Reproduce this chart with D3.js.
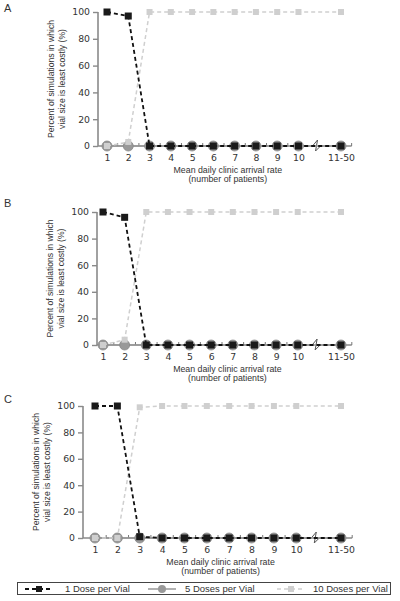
<!DOCTYPE html>
<html><head><meta charset="utf-8">
<script src="https://cdn.jsdelivr.net/npm/d3@7"></script>
<style>body{margin:0;background:#fff}svg{display:block}</style>
</head><body>
<script>
// ---- data ----
const categories = ["1","2","3","4","5","6","7","8","9","10","11-50"];
const yTicks = [0,20,40,60,80,100];
const panelLabels = ["A","B","C"];
const oneDoseA  = [100,97,0,0,0,0,0,0,0,0,0];
const fiveDoseA = [0,0,0,0,0,0,0,0,0,0,0];
const tenDoseA  = [0,3,100,100,100,100,100,100,100,100,100];
const oneDoseB  = [100,96,0,0,0,0,0,0,0,0,0];
const fiveDoseB = [0,0,0,0,0,0,0,0,0,0,0];
const tenDoseB  = [0,4,100,100,100,100,100,100,100,100,100];
const oneDoseC  = [100,100,1,0,0,0,0,0,0,0,0];
const fiveDoseC = [0,0,0,0,0,0,0,0,0,0,0];
const tenDoseC  = [0,0,99,100,100,100,100,100,100,100,100];
const seriesNames = ["1 Dose per Vial","5 Doses per Vial","10 Doses per Vial"];

const W=400,H=601;
const svg=d3.select("body").append("svg").attr("width",W).attr("height",H);

const panels=[
  {label:panelLabels[0],one:oneDoseA,five:fiveDoseA,ten:tenDoseA,ax:98,x1:107,x12:341,y0:146,y100:12,ly:8},
  {label:panelLabels[1],one:oneDoseB,five:fiveDoseB,ten:tenDoseB,ax:97,x1:103,x12:341,y0:345,y100:212,ly:203},
  {label:panelLabels[2],one:oneDoseC,five:fiveDoseC,ten:tenDoseC,ax:83,x1:95,x12:341,y0:538,y100:406,ly:399}
];
const domain=categories.slice(0,10).concat(["_gap"],categories.slice(10));
const axisCol="#8a8a8a", textCol="#333";

panels.forEach(p=>{
  const g=svg.append("g");
  const x=d3.scalePoint().domain(domain).range([p.x1,p.x12]);
  const step=x.step();
  const y=d3.scaleLinear().domain([0,100]).range([p.y0,p.y100]);
  const xEnd=p.x12+step*0.5;

  g.append("text").attr("x",4).attr("y",p.ly+4).text(p.label)
   .attr("font-family","Liberation Sans, Arial, sans-serif").attr("font-size",11).attr("fill",textCol);

  // y axis
  const ya=g.append("g").attr("transform",`translate(${p.ax},0)`)
    .call(d3.axisLeft(y).tickValues(yTicks).tickSize(5).tickPadding(3));
  ya.select(".domain").attr("stroke",axisCol).attr("stroke-width",1.6).attr("d",`M0,${p.y0}V${p.y100}`);
  ya.selectAll(".tick line").attr("stroke",axisCol).attr("stroke-width",1.4);
  ya.selectAll(".tick text").attr("font-family","DejaVu Sans, sans-serif").attr("font-size",9.3).attr("fill",textCol);

  // x axis
  const xa=g.append("g").attr("transform",`translate(0,${p.y0})`)
    .call(d3.axisBottom(x).tickValues(categories).tickSize(0).tickPadding(8));
  xa.select(".domain").remove();
  xa.selectAll(".tick text").attr("font-family","DejaVu Sans, sans-serif").attr("font-size",9.3).attr("fill",textCol);
  const brk=x("10")+step*0.85;
  g.append("line").attr("x1",p.ax).attr("x2",brk-3).attr("y1",p.y0).attr("y2",p.y0).attr("stroke",axisCol).attr("stroke-width",1.6);
  g.append("line").attr("x1",brk+3).attr("x2",xEnd).attr("y1",p.y0).attr("y2",p.y0).attr("stroke",axisCol).attr("stroke-width",1.6);
  g.append("path").attr("d",`M${brk-4},${p.y0}L${brk+1},${p.y0-6}L${brk-1},${p.y0+5}L${brk+4},${p.y0}`)
   .attr("fill","none").attr("stroke","#555").attr("stroke-width",1);
  // minor ticks
  const minor=categories.slice(0,9).map(c=>x(c)+step/2).concat([xEnd]);
  g.selectAll(".mt").data(minor).join("line").attr("x1",d=>d).attr("x2",d=>d)
   .attr("y1",p.y0).attr("y2",p.y0-3).attr("stroke","#777").attr("stroke-width",1);

  // axis titles
  const cx=(p.ax+xEnd)/2;
  const xt=g.append("text").attr("font-family","Liberation Sans, Arial, sans-serif").attr("font-size",8.8)
    .attr("fill",textCol).attr("text-anchor","middle");
  xt.append("tspan").attr("x",cx+3).attr("y",p.y0+27).text("Mean daily clinic arrival rate");
  xt.append("tspan").attr("x",cx+3).attr("y",p.y0+36).text("(number of patients)");
  const cy=(p.y0+p.y100)/2;
  const yt=g.append("text").attr("font-family","Liberation Sans, Arial, sans-serif").attr("font-size",8.6)
    .attr("fill",textCol).attr("text-anchor","middle").attr("transform",`translate(${p.ax-44},${cy}) rotate(-90)`);
  yt.append("tspan").attr("x",0).attr("y",0).text("Percent of simulations in which");
  yt.append("tspan").attr("x",0).attr("y",10.5).text("vial size is least costly (%)");

  const line=d3.line().x((d,i)=>x(categories[i])).y(d=>y(d));
  // 5 doses
  g.append("path").datum(p.five).attr("d",line).attr("fill","none").attr("stroke","#999").attr("stroke-width",1.5);
  g.selectAll(".c5").data(p.five).join("circle").attr("cx",(d,i)=>x(categories[i])).attr("cy",d=>y(d))
   .attr("r",5).attr("fill","#999").attr("stroke","#888").attr("stroke-width",0.8);
  // 10 doses
  g.append("path").datum(p.ten).attr("d",line).attr("fill","none").attr("stroke","#cfcfcf").attr("stroke-width",1.5).attr("stroke-dasharray","4,3");
  g.selectAll(".s10").data(p.ten).join("rect").attr("x",(d,i)=>x(categories[i])-3).attr("y",d=>y(d)-3)
   .attr("width",6).attr("height",6).attr("fill","#cfcfcf");
  // 1 dose
  g.append("path").datum(p.one).attr("d",line).attr("fill","none").attr("stroke","#111").attr("stroke-width",1.8).attr("stroke-dasharray","4,3");
  g.selectAll(".s1").data(p.one).join("rect").attr("x",(d,i)=>x(categories[i])-3.5).attr("y",d=>y(d)-3.5)
   .attr("width",7).attr("height",7).attr("fill","#1a1a1a");
});

// legend
const lg=svg.append("g");
lg.append("rect").attr("x",17.5).attr("y",582.5).attr("width",373).attr("height",12).attr("fill","none").attr("stroke","#444").attr("stroke-width",1);
const ly=589;
const items=[
  {name:seriesNames[0],x0:25,tx:65,stroke:"#111",dash:"4,3",sw:1.8,mark:"rect",fill:"#1a1a1a"},
  {name:seriesNames[1],x0:148,tx:185,stroke:"#999",dash:null,sw:1.5,mark:"circle",fill:"#999"},
  {name:seriesNames[2],x0:277,tx:313,stroke:"#cfcfcf",dash:"4,3",sw:1.5,mark:"rect",fill:"#cfcfcf"}
];
items.forEach(it=>{
  const l=lg.append("line").attr("x1",it.x0).attr("x2",it.x0+28).attr("y1",ly).attr("y2",ly).attr("stroke",it.stroke).attr("stroke-width",it.sw);
  if(it.dash) l.attr("stroke-dasharray",it.dash);
  const mx=it.x0+14;
  if(it.mark==="rect") lg.append("rect").attr("x",mx-3).attr("y",ly-3).attr("width",6).attr("height",6).attr("fill",it.fill);
  else lg.append("circle").attr("cx",mx).attr("cy",ly).attr("r",4).attr("fill",it.fill);
  lg.append("text").attr("x",it.tx).attr("y",ly+3.3).text(it.name)
    .attr("font-family","Liberation Sans, Arial, sans-serif").attr("font-size",9.5).attr("fill",textCol);
});
</script>
</body></html>
